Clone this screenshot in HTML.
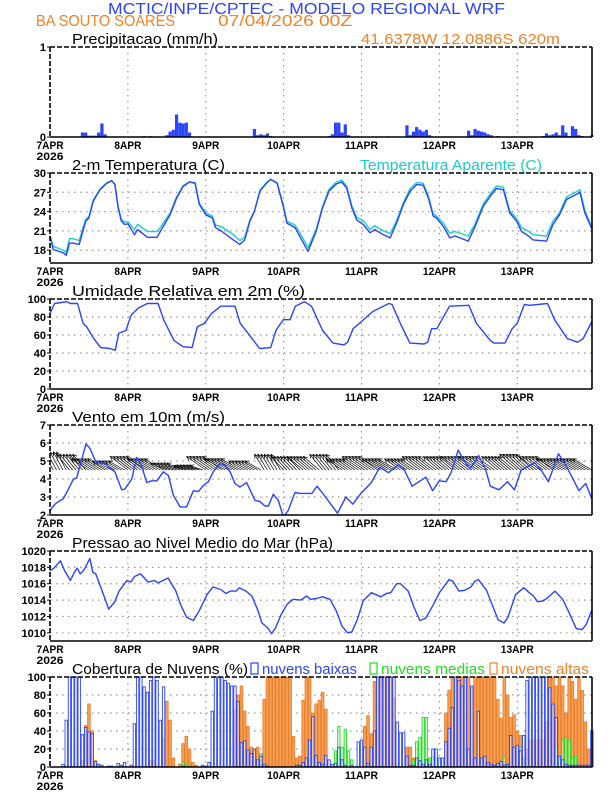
<!DOCTYPE html>
<html><head><meta charset="utf-8"><style>
html,body{margin:0;padding:0;background:#fff;}
svg{display:block;font-family:"Liberation Sans",sans-serif;}
</style></head><body>
<svg id="chart" width="612" height="792" viewBox="0 0 612 792" xmlns="http://www.w3.org/2000/svg"></svg>
<script>
// ---------- data ----------
const dayLabels = ["7APR","8APR","9APR","10APR","11APR","12APR","13APR"];
const prHours = [10,11,12,13,14,15,16,17,19,29,31,36,37,38,39,40,41,42,43,63,64,65,66,67,68,86,87,88,89,90,91,92,100,102,104,110,111,112,113,114,115,116,117,129,130,131,132,133,134,135,136,138,152,153,154,155,156,157,158,159,160,161,162,163,164,167];
const prVals = [0.05,0.05,0.015,0.015,0.015,0.05,0.15,0.03,0.005,0.01,0.01,0.02,0.06,0.08,0.25,0.16,0.15,0.16,0.05,0.09,0.02,0.03,0.02,0.04,0.01,0.01,0.03,0.16,0.16,0.05,0.14,0.02,0.005,0.005,0.008,0.13,0.02,0.06,0.11,0.08,0.06,0.08,0.02,0.07,0.02,0.09,0.07,0.06,0.05,0.03,0.02,0.01,0.01,0.04,0.02,0.03,0.05,0.02,0.13,0.05,0.01,0.12,0.09,0.02,0.01,0.02];
const prTicks = [0,1];

const tHours = [0,1,4,5,6,7,9,11,12,13.3,15.4,17.5,19,20,21,22,23,24,26,27,30,33,34,37,39,41,43,44.7,46,48,50,51,53,56.5,58.5,60,61.6,63,64.7,66.7,68,70,72,73,75.5,77,79.5,82,84,86,88.3,89.9,91.4,93,94.5,96.5,98.6,100.1,102.7,104.8,106.8,108.9,111,113,115,116.6,118.1,119.1,121.2,123.2,124.8,128.9,131,133.5,136,137.6,139.7,141.7,143.8,145.3,146.9,148.9,153,155,157,159.2,161.2,163.3,164.8,167];
const tempVals = [20.2,18.1,17.6,17.2,19.1,19.1,18.9,22.5,23,25.6,27.4,28.4,28.8,28.2,24.6,22.5,22,22.1,20.4,21.2,20,20,20.9,23.5,26.1,27.9,28.6,28.4,25.1,23.5,23,21.5,20.9,19.6,18.9,19.6,22.5,24,27.2,28.4,29,28.4,24.6,22.2,21.5,20.1,17.8,20.9,24.6,27.2,28.3,28.6,27.7,24.6,22.7,22,20.7,21.2,20.4,19.9,22.2,25.1,27.2,28.2,28.1,26.1,23.3,23,21.7,19.9,20.2,19.4,21.7,24.8,26.6,27.6,27.4,23.8,22.5,20.9,20.4,19.6,19.4,22,23.5,25.9,26.4,27,23.8,21.3];
const appVals = [20.3,18.6,18.0,17.6,19.8,19.8,19.5,22.8,23.2,25.8,27.5,28.5,28.8,28.3,24.8,22.8,22.4,22.4,21.2,22.0,20.9,20.9,21.5,23.8,26.3,28.0,28.6,28.5,25.3,23.8,23.3,21.9,21.6,20.4,19.5,20.0,22.7,24.1,27.3,28.5,29,28.5,24.8,22.5,21.9,20.7,18.4,21.2,24.8,27.5,28.6,28.9,28.0,24.9,23.1,22.6,21.2,21.8,21.0,20.6,22.6,25.4,27.6,28.5,28.4,26.4,23.6,23.3,22.2,20.6,20.9,20.2,22.1,25.2,27.0,28.0,27.8,24.1,22.9,21.5,21.1,20.4,20.2,22.5,23.8,26.3,26.8,27.4,24.2,21.5];
const tTicks = [18,21,24,27,30];

const rhHours = [0,1.4,5.2,6.3,8.5,10.2,11.3,13.5,15.6,18.4,20.1,21.2,23.4,25,27.2,30,33.3,35,38.2,41,43.8,45.4,47.6,49.8,52.6,57,58.6,60.8,64.6,68,69.6,71.9,74,75.6,78.4,80.6,84,87.2,90.6,91.7,93.4,96,99.4,104.4,105.4,108.2,110.9,115.3,116.4,117.6,119.2,123.1,129.1,131.4,135.7,136.8,140.2,142.4,144,146.2,147.8,153.3,155.5,159.4,162.6,164.3,167];
const rhVals = [84,95,97,95,95,73,69,56,46,45,43,62,65,82,90,95,95,77,54,47,46,69,73,84,92,92,73,63,45,46,65,77,77,92,97,92,65,51,49,52,67,75,86,95,94,71,51,50,52,67,67,92,93,73,54,51,51,67,73,94,93,95,77,56,52,56,75];
const rhTicks = [0,20,40,60,80,100];

const wHours = [0,1.5,3.1,4.1,5.7,7.2,8.2,9.8,11.1,12.3,13.9,14.9,17,18.5,20,22.1,23.1,25.2,26.7,28.2,29.8,31.3,32.9,34.9,36.5,38,40.1,42.1,44.2,45.7,47.3,48.8,50.3,52.4,53.9,55.5,57,58.5,60.6,63.2,64.7,66.2,67.3,68.8,70.4,71.9,73.4,75.5,77,80.7,82.3,84.9,88.6,91.2,93.3,95.8,99,101.6,104.3,107.4,108.9,111.6,115.8,117.9,120,122.1,123.6,125.8,127.3,129.4,132.1,134.2,135.7,138.4,141,143.1,145.2,149.4,151.5,153.6,156.7,158.8,160.9,163,165.1,167];
const wSpeed = [2.25,2.6,2.8,2.9,3.45,4.0,4.05,5.1,5.95,5.7,5.05,4.9,4.85,4.6,4.4,3.4,3.45,4.0,5.2,4.75,3.8,3.9,3.9,4.4,4.2,3.1,2.45,2.45,3.35,3.3,3.65,3.85,4.4,4.85,4.75,4.4,3.75,3.55,3.8,2.8,2.75,2.5,2.5,3.15,2.8,1.9,2.25,3.25,3.2,3.2,3.6,3.0,2.1,3.0,2.6,3.2,3.8,4.65,4.35,4.8,4.6,3.6,4.1,3.35,3.9,3.85,4.35,5.6,5.1,4.55,5.3,4.55,3.6,3.4,3.85,3.4,4.5,4.9,4.45,3.85,5.4,4.8,4.1,3.35,3.75,2.9];
const wTicks = [2,3,4,5,6,7];
// wind components per 6-hour block (m/s)
const windU = [-3,-4,-5.5,-5,-5.5,-6,-5,-4,-6,-6.5,-5,-3,-4,-5,-4,-5,-6,-6,-5,-5.5,-5,-5.5,-6,-5,-5.5,-5.5,-6,-6];
const windV = [4,3.5,2.5,2,3,2.5,1.5,1,3,2.5,2,3.5,3,3,3.5,2.5,3,2.5,2.5,3,3,3,3,3,3.5,3,2.5,2.5];

const pHours = [0,1.2,3.2,4.5,6.3,7.5,8.4,9.3,10.5,12.3,13.2,14.1,16.1,18.1,19.8,21.3,23.7,24.9,26.1,27.9,30.3,32.1,33.3,36.4,38.8,40.2,42.1,44.2,46,48.4,50.2,52.6,54.2,55.6,57.4,58.3,60.4,62.2,64.1,65.3,67.1,68.3,69.5,71.3,73.1,74.9,77.3,79.1,80.3,82.2,84,86.3,88.2,90,91.7,93,94.7,96.5,99,100.8,102,103.7,105,106.8,108,110.4,112.2,114,115.8,118.2,120,123,124.2,126,127.8,129.7,130.9,132,134.5,136.2,138.1,139.9,141.1,143.5,146,147.7,149,150.2,152,153.7,155.6,158,159.7,162.2,164,165.2,167];
const pVals = [1017.6,1017.9,1018.8,1017.6,1016.4,1017.4,1017.9,1017.2,1017.7,1019.1,1017.4,1017.2,1015.1,1012.9,1013.7,1015.1,1016.4,1016.2,1016.9,1017.2,1016.2,1016.4,1016.1,1016.7,1015.1,1013.5,1011.9,1011.5,1012.7,1014.7,1015.6,1015.3,1014.8,1015.1,1015.1,1015.5,1015.1,1014.5,1012.7,1011.2,1010.6,1009.9,1010.6,1012.3,1013.5,1014.1,1014,1014.5,1014.1,1014.2,1014.4,1014.1,1012.7,1010.8,1010,1010.1,1011.6,1013.9,1014.9,1014.6,1014.4,1014.8,1014.9,1016,1016,1015.1,1013.1,1011.5,1011.8,1013.5,1014.9,1016.5,1016.3,1015.1,1015.2,1015.6,1016.3,1016.5,1015.2,1013.5,1011.6,1011.2,1011.9,1014.7,1015.5,1014.9,1014.5,1013.8,1013.9,1014.4,1015.1,1014.1,1012.7,1010.5,1010.4,1011,1012.8];
const pTicks = [1010,1012,1014,1016,1018,1020];

const cloudLow = [0,0,0,0,3,52,100,100,100,100, 36,44,39,37,6,3,2,0,1,1, 0,4,2,5,0,2,48,100,100,89, 83,96,100,96,52,89,0,0,0,0, 0,1,0,0,0,0,0,2,1,5, 62,100,100,100,96,93,90,90,73,27, 29,19,15,20,8,12,3,1,0,0, 0,0,0,0,0,0,2,2,5,10, 30,56,13,5,3,13,8,3,4,22, 8,2,0,2,0,28,30,22,4,22, 40,100,100,100,100,100,100,50,38,38, 12,2,2,10,7,3,8,3,20,20, 10,10,28,43,66,100,96,90,100,20, 90,10,62,10,12,5,3,2,4,6, 2,3,35,22,24,18,35,96,100,100, 100,100,100,100,88,70,55,12,8,3, 2,2,2,2,2,2,2,40];
const cloudMid = [0,0,0,0,0,0,0,0,0,0, 0,0,0,0,0,0,0,0,0,0, 0,0,0,0,0,0,0,0,0,0, 0,0,0,0,0,0,0,0,0,0, 0,6,2,1,0,0,0,0,0,0, 0,0,0,0,0,0,0,0,0,0, 0,0,0,0,0,15,3,0,0,0, 0,0,0,0,0,0,0,0,0,0, 0,0,0,0,0,0,0,0,18,45, 22,42,18,8,0,0,0,0,0,0, 0,0,0,0,0,0,0,0,0,0, 0,0,8,28,33,55,55,10,12,10, 0,5,0,0,0,0,0,0,0,0, 0,0,0,0,0,0,0,0,0,2, 12,0,0,0,0,22,0,8,0,0, 0,0,0,0,0,0,22,8,30,33, 30,10,12,0,0,0,0,0];
const cloudHigh = [0,0,0,0,0,0,0,0,0,0, 7,46,70,40,7,3,0,0,0,0, 0,0,0,0,0,0,0,0,0,0, 0,7,7,0,0,31,73,52,10,0, 3,26,34,20,5,2,0,0,0,0, 0,0,0,0,0,0,0,64,80,90, 62,45,22,20,22,8,75,100,100,100, 100,100,100,100,100,34,10,12,74,100, 100,60,70,74,83,64,0,0,0,0, 0,0,0,0,0,0,0,45,57,37, 95,100,100,100,100,100,77,0,0,0, 22,22,10,10,0,0,0,0,0,0, 0,0,60,85,100,100,100,100,100,100, 90,100,100,100,100,100,100,100,75,54, 100,80,55,58,40,35,10,20,30,30, 30,30,30,50,100,100,90,100,90,60, 100,95,75,100,85,50,20,0];
const cTicks = [0,20,40,60,80,100];

// ---------- drawing ----------
const NS = "http://www.w3.org/2000/svg";
const svg = document.getElementById("chart");
const X0 = 50, X1 = 592, PXH = 3.245;
function xs(h){ return X0 + h * PXH; }
function ys(top, min, max){ return v => top + 90 - (v - min) / (max - min) * 90; }
function el(tag, parent){ const e = document.createElementNS(NS, tag); (parent||svg).appendChild(e); return e; }
function txt(s, x, y, opts, parent){
  const t = el("text", parent);
  t.textContent = s;
  t.setAttribute("x", x); t.setAttribute("y", y);
  t.setAttribute("font-size", opts.size || 14);
  t.setAttribute("fill", opts.fill || "#000");
  if (opts.anchor) t.setAttribute("text-anchor", opts.anchor);
  if (opts.weight) t.setAttribute("font-weight", opts.weight);
  if (opts.len){ t.setAttribute("textLength", opts.len); t.setAttribute("lengthAdjust", "spacingAndGlyphs"); }
  return t;
}
const BLUE = "#2a44ff", ORANGE = "#f0822a", CYAN = "#1ccdc8";

let t;
t = txt("MCTIC/INPE/CPTEC - MODELO REGIONAL WRF", 108, 14, {size:16, fill:BLUE, len:397});


t = txt("BA SOUTO SOARES", 36, 26, {size:16, fill:ORANGE, len:139});


t = txt("07/04/2026 00Z", 218, 26, {size:16, fill:ORANGE, len:134});


t = txt("41.6378W 12.0886S 620m", 361, 44, {size:15, fill:ORANGE, len:199});



function panel(name, top, ticks, ymap, title, titleLen){
  const g = el("g");
  
  
  const bottom = top + 90;
  ticks.forEach(v => {
    const y = ymap(v);
    if (y > top + 0.5 && y < bottom - 0.5){
      const l = el("line", g);
      
      
      l.setAttribute("x1", X0); l.setAttribute("x2", X1); l.setAttribute("y1", y); l.setAttribute("y2", y);
      l.setAttribute("stroke", "#999"); l.setAttribute("stroke-width", 1.2); l.setAttribute("stroke-dasharray", "1.5 4.5");
    }
    const lab = txt(String(v), 46, y + 4, {size:11, anchor:"end", weight:"bold"}, g);
    
    
    const tk = el("line", g);
    
    
    tk.setAttribute("x1", 47); tk.setAttribute("x2", 50); tk.setAttribute("y1", y); tk.setAttribute("y2", y);
    tk.setAttribute("stroke", "#000");
  });
  dayLabels.forEach((d, i) => {
    const x = xs(i * 24);
    if (i > 0){
      const l = el("line", g);
      
      
      l.setAttribute("x1", x); l.setAttribute("x2", x); l.setAttribute("y1", top); l.setAttribute("y2", bottom);
      l.setAttribute("stroke", "#999"); l.setAttribute("stroke-width", 1.2); l.setAttribute("stroke-dasharray", "1.5 4.5");
    }
    const lab = txt(d, x, bottom + 12, {size:11, anchor:"middle", weight:"bold", len: d.length > 4 ? 33 : 27}, g);
    
    
  });
  const yr = txt("2026", 50, bottom + 23, {size:11, anchor:"middle", weight:"bold", len:27}, g);
  
  
  const tt = txt(title, 72, top - 3, {size:15, len:titleLen}, g);
  
  
  return g;
}
function frame(name, top, g){
  const bottom = top + 90;
  const segs = [[X0,top,X1,top,true],[X0,top,X0,bottom,true],[X1,top,X1,bottom,false],[X0,bottom,X1,bottom,false]];
  segs.forEach(s => {
    const l = el("line", g);
    
    
    l.setAttribute("x1", s[0]); l.setAttribute("y1", s[1]); l.setAttribute("x2", s[2]); l.setAttribute("y2", s[3]);
    l.setAttribute("stroke", "#000"); l.setAttribute("stroke-width", 1.6);
    if (s[4]) l.setAttribute("stroke-dasharray", "5 2");
  });
}
function clip(id, top){
  const cp = el("clipPath");
  cp.setAttribute("id", id);
  const r = el("rect", cp);
  r.setAttribute("x", X0); r.setAttribute("y", top); r.setAttribute("width", X1 - X0); r.setAttribute("height", 90);
}
function line(hours, vals, ymap, color, g, name, clipId){
  const n = Math.min(hours.length, vals.length);
  const pts = [];
  for (let i = 0; i < n; i++) pts.push(xs(hours[i]).toFixed(1) + "," + ymap(vals[i]).toFixed(1));
  const p = el("polyline", g);
  
  
  p.setAttribute("points", pts.join(" "));
  p.setAttribute("fill", "none"); p.setAttribute("stroke", color); p.setAttribute("stroke-width", 1.4);
  p.setAttribute("stroke-linejoin", "round");
  if (clipId) p.setAttribute("clip-path", "url(#" + clipId + ")");
}

// Panel 1: precipitation
const T1 = 47, yPr = ys(T1, 0, 1);
const g1 = panel("precipitation", T1, prTicks, yPr, "Precipitacao (mm/h)", 146);
prHours.forEach((h, i) => {
  const r = el("rect", g1);
  
  
  const y = yPr(prVals[i]);
  r.setAttribute("x", xs(h) - 1.6); r.setAttribute("y", y); r.setAttribute("width", 3.2); r.setAttribute("height", yPr(0) - y);
  r.setAttribute("fill", BLUE);
});
frame("precipitation", T1, g1);

// Panel 2: temperature
const T2 = 173, yT = ys(T2, 16, 30);
const g2 = panel("temperature", T2, tTicks, yT, "2-m Temperatura (C)", 153);
t = txt("Temperatura Aparente (C)", 360, 170, {size:15, fill:CYAN, len:182}, g2);


clip("clipT", T2);
line(tHours, appVals, yT, CYAN, g2, "apparent-temperature-line", "clipT");
line(tHours, tempVals, yT, BLUE, g2, "temperature-line", "clipT");
frame("temperature", T2, g2);

// Panel 3: humidity
const T3 = 299, yRH = ys(T3, 0, 100);
const g3 = panel("humidity", T3, rhTicks, yRH, "Umidade Relativa em 2m (%)", 233);
line(rhHours, rhVals, yRH, BLUE, g3, "humidity-line");
frame("humidity", T3, g3);

// Panel 4: wind
const T4 = 425, yW = ys(T4, 2, 7);
const g4 = panel("wind", T4, wTicks, yW, "Vento em 10m (m/s)", 153);
clip("clipW", T4);
const baseY = yW(4.5);
for (let h = 0; h < 168; h++){
  const b = Math.floor(h / 6);
  const dx = windU[b] * 3.2, dy = -windV[b] * 4.5;
  const x0 = xs(h), x1 = x0 + dx, y1 = baseY + dy;
  const a = el("path", g4);
  
  
  const len = Math.hypot(dx, dy), ux = dx / len, uy = dy / len;
  const hx1 = x1 - ux * 4 - uy * 2, hy1 = y1 - uy * 4 + ux * 2;
  const hx2 = x1 - ux * 4 + uy * 2, hy2 = y1 - uy * 4 - ux * 2;
  a.setAttribute("d", `M${x0.toFixed(1)},${baseY.toFixed(1)}L${x1.toFixed(1)},${y1.toFixed(1)}M${hx1.toFixed(1)},${hy1.toFixed(1)}L${x1.toFixed(1)},${y1.toFixed(1)}L${hx2.toFixed(1)},${hy2.toFixed(1)}`);
  a.setAttribute("stroke", "#000"); a.setAttribute("stroke-width", 0.7); a.setAttribute("fill", "none");
  a.setAttribute("clip-path", "url(#clipW)");
}
line(wHours, wSpeed, yW, BLUE, g4, "wind-speed-line", "clipW");
frame("wind", T4, g4);

// Panel 5: pressure
const T5 = 551, yP = ys(T5, 1009, 1020);
const g5 = panel("pressure", T5, pTicks, yP, "Pressao ao Nivel Medio do Mar (hPa)", 261);
line(pHours, pVals, yP, BLUE, g5, "pressure-line");
frame("pressure", T5, g5);

// Panel 6: clouds
const T6 = 677, yC = ys(T6, 0, 100);
const g6 = panel("clouds", T6, cTicks, yC, "Cobertura de Nuvens (%)", 176);
function bars(arr, fill, stroke, name, w){
  arr.forEach((v, h) => {
    if (v <= 0) return;
    const r = el("rect", g6);
    
    
    const y = yC(v);
    r.setAttribute("x", xs(h) - w / 2); r.setAttribute("y", y); r.setAttribute("width", w); r.setAttribute("height", yC(0) - y);
    r.setAttribute("fill", fill); r.setAttribute("stroke", stroke); r.setAttribute("stroke-width", 0.9);
  });
}
bars(cloudHigh, "#f5a25a", "#ec7f2a", "high-cloud-bar", 2.6);
bars(cloudMid, "rgba(190,245,190,0.6)", "#22dd22", "mid-cloud-bar", 2.4);
bars(cloudLow, "rgba(255,255,255,0.55)", "#2a44ff", "low-cloud-bar", 2.4);
function legend(x, color, label, len, name){
  const r = el("rect", g6);
  
  
  r.setAttribute("x", x); r.setAttribute("y", 663); r.setAttribute("width", 7); r.setAttribute("height", 11);
  r.setAttribute("fill", "none"); r.setAttribute("stroke", color); r.setAttribute("stroke-width", 1.2);
  const tx = txt(label, x + 11, 674, {size:15, fill:color, len:len}, g6);
  
  
}
legend(251, BLUE, "nuvens baixas", 95, "legend-low-clouds");
legend(370, "#22dd22", "nuvens medias", 104, "legend-mid-clouds");
legend(490, ORANGE, "nuvens altas", 88, "legend-high-clouds");
frame("clouds", T6, g6);
</script>
</body></html>
